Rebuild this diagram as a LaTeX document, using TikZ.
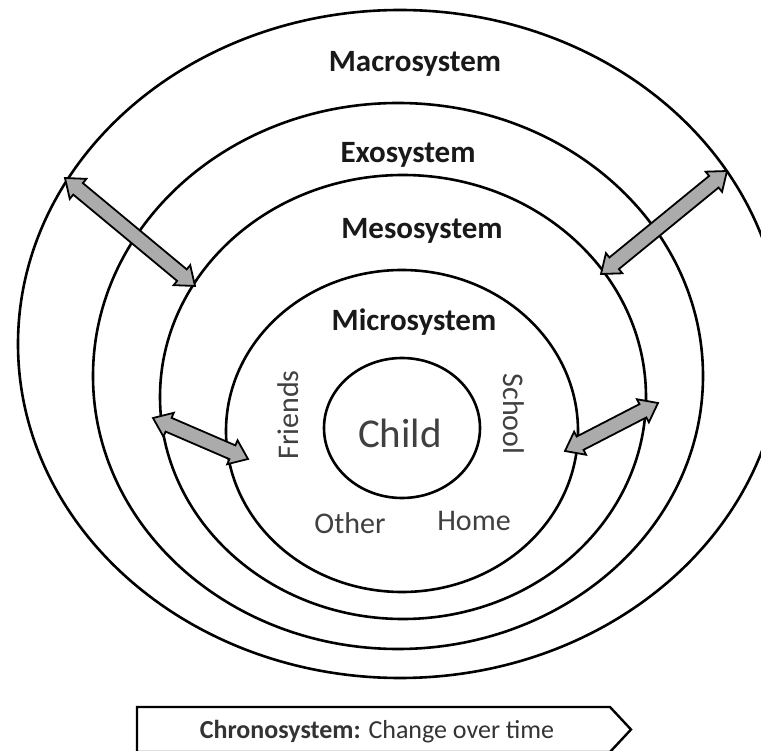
\documentclass[tikz,border=0pt]{standalone}
\usepackage{fontspec}
\setmainfont{Carlito}
\usetikzlibrary{calc}
\tikzset{
  ring/.style={draw=black, line width=2.6pt},
  syslabel/.style={font=\bfseries\fontsize{31}{36}\selectfont, text=black!90, inner sep=0pt},
  partlabel/.style={font=\fontsize{30}{35}\selectfont, text=black!75, inner sep=0pt},
  blockarrow/.style={draw=black, fill=black!33, line width=1.8pt, line join=miter},
}
\newcommand{\dblarrow}[2]{%
  \draw[blockarrow] (#1)
    -- ($(#1)!17pt!(#2)!13pt!90:(#2)$)
    -- ($(#1)!17pt!(#2)!7.5pt!90:(#2)$)
    -- ($(#2)!17pt!(#1)!7.5pt!-90:(#1)$)
    -- ($(#2)!17pt!(#1)!13pt!-90:(#1)$)
    -- (#2)
    -- ($(#2)!17pt!(#1)!13pt!90:(#1)$)
    -- ($(#2)!17pt!(#1)!7.5pt!90:(#1)$)
    -- ($(#1)!17pt!(#2)!7.5pt!-90:(#2)$)
    -- ($(#1)!17pt!(#2)!13pt!-90:(#2)$)
    -- cycle;}
\begin{document}
\begin{tikzpicture}[x=1pt, y=-1pt]
\useasboundingbox (0,0) rectangle (761,751);
\clip (0,0) rectangle (761,751);
\fill[white] (0,0) rectangle (761,751);
% rings
\coordinate (cmacro) at (400,344);
\coordinate (cexo) at (398,376);
\coordinate (cmeso) at (403,397);
\coordinate (cmicro) at (402,431);
\coordinate (cchild) at (402,428);
\draw[ring] (cmacro) ellipse [x radius=382, y radius=334];
\draw[ring] (cexo) ellipse [x radius=305, y radius=273];
\draw[ring] (cmeso) ellipse [x radius=243, y radius=222];
\draw[ring] (cmicro) ellipse [x radius=176, y radius=161];
\draw[ring] (cchild) ellipse [x radius=78, y radius=70];
% labels
\node[syslabel] (macro) at (415,64) {Macrosystem};
\node[syslabel] (exo) at (408,155) {Exosystem};
\node[syslabel] (meso) at (422,231) {Mesosystem};
\node[syslabel] (micro) at (414,322) {Microsystem};
\node[font=\fontsize{41}{48}\selectfont, text=black!75, inner sep=0pt] (child) at (400,433) {Child};
\node[partlabel, rotate=90] (friends) at (288,415) {Friends};
\node[partlabel, rotate=-90] (school) at (514,414) {School};
\node[partlabel] (other) at (350,523) {Other};
\node[partlabel] (home) at (474,521) {Home};
% arrows
\coordinate (a1s) at (65,178);
\coordinate (a1e) at (195,286);
\coordinate (a2s) at (601,274);
\coordinate (a2e) at (727,171);
\coordinate (a3s) at (153,418);
\coordinate (a3e) at (248,459);
\coordinate (a4s) at (565,451);
\coordinate (a4e) at (658,403);
\dblarrow{a1s}{a1e}
\dblarrow{a2s}{a2e}
\dblarrow{a3s}{a3e}
\dblarrow{a4s}{a4e}
% chronosystem
\draw[line width=2.4pt, line join=miter] (137,707) -- (610,707) -- (631,729.5) -- (610,752) -- (137,752) -- cycle;
\node[font=\fontsize{26}{31}\selectfont, text=black!80, inner sep=0pt] (chrono) at (377,732) {\textbf{Chronosystem:} Change over time};
\end{tikzpicture}
\end{document}
